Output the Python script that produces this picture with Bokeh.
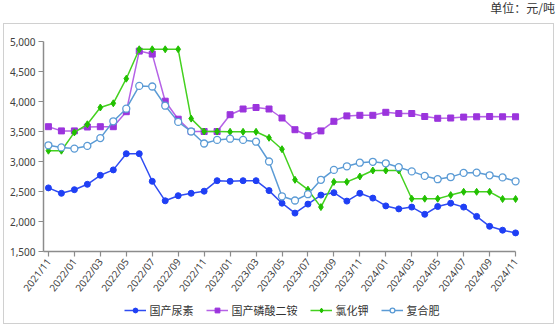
from bokeh.plotting import figure
from bokeh.layouts import column
from bokeh.models import (FixedTicker, NumeralTickFormatter, Legend, LegendItem,
                          Range1d, Div)
from bokeh.embed import file_html
from bokeh.resources import INLINE

months = ["2021/11", "2021/12", "2022/01", "2022/02", "2022/03", "2022/04", "2022/05",
          "2022/06", "2022/07", "2022/08", "2022/09", "2022/10", "2022/11", "2022/12",
          "2023/01", "2023/02", "2023/03", "2023/04", "2023/05", "2023/06", "2023/07",
          "2023/08", "2023/09", "2023/10", "2023/11", "2023/12", "2024/01", "2024/02",
          "2024/03", "2024/04", "2024/05", "2024/06", "2024/07", "2024/08", "2024/09",
          "2024/10", "2024/11"]

urea = [2560, 2470, 2530, 2620, 2770, 2860, 3130, 3130, 2670, 2345, 2430, 2470, 2505,
        2680, 2670, 2680, 2680, 2515, 2305, 2140, 2290, 2440, 2480, 2340, 2470, 2390,
        2260, 2210, 2240, 2120, 2250, 2305, 2240, 2085, 1920, 1855, 1810]
dap = [3580, 3510, 3510, 3575, 3580, 3580, 3830, 4840, 4790, 4005, 3705, 3500, 3500,
       3500, 3780, 3875, 3900, 3875, 3725, 3530, 3430, 3510, 3670, 3760, 3770, 3770,
       3820, 3800, 3800, 3750, 3720, 3725, 3740, 3745, 3750, 3745, 3745]
potash = [3180, 3180, 3485, 3620, 3900, 3970, 4380, 4870, 4870, 4870, 4870, 3715, 3500,
          3500, 3495, 3495, 3495, 3395, 3205, 2695, 2530, 2240, 2660, 2660, 2750, 2850,
          2850, 2850, 2380, 2380, 2380, 2440, 2495, 2495, 2495, 2375, 2375]
compound = [3270, 3235, 3215, 3260, 3390, 3670, 3880, 4260, 4250, 3930, 3660, 3500, 3300,
            3360, 3380, 3360, 3330, 3000, 2420, 2350, 2455, 2695, 2860, 2920, 2980, 2995,
            2970, 2905, 2835, 2760, 2705, 2740, 2810, 2815, 2770, 2735, 2670]

series_names = ["国产尿素", "国产磷酸二铵", "氯化钾", "复合肥"]
unit_text = "单位：元/吨"

x = list(range(len(months)))

p = figure(frame_width=477, frame_height=210, output_backend="svg", toolbar_location=None,
           x_range=Range1d(-0.38, len(months) - 1 + 0.38), y_range=Range1d(1500, 5000),
           min_border_left=39, min_border_right=33, min_border_top=17, min_border_bottom=40,
           margin=(0, 0, 0, 0))
p.xgrid.visible = False
p.ygrid.visible = False
p.outline_line_color = None
p.background_fill_color = "white"
p.border_fill_color = "white"

axis_color = "#8c8c8c"
label_color = "#404040"
font = "Noto Sans"

p.xaxis.ticker = FixedTicker(ticks=x[::2])
p.xaxis.major_label_overrides = {i: months[i] for i in x}
p.xaxis.major_label_orientation = 0.92
p.xaxis.bounds = (-0.38, len(months) - 1)
p.yaxis.ticker = FixedTicker(ticks=[1500, 2000, 2500, 3000, 3500, 4000, 4500, 5000])
p.yaxis.formatter = NumeralTickFormatter(format="0,0")
for ax in (p.xaxis[0], p.yaxis[0]):
    ax.axis_line_color = axis_color
    ax.axis_line_width = 1.5
    ax.major_tick_line_color = axis_color
    ax.major_tick_line_width = 1.2
    ax.major_tick_out = 5
    ax.major_tick_in = 0
    ax.minor_tick_line_color = None
    ax.major_label_text_font = font
    ax.major_label_text_font_size = "10px"
    ax.major_label_text_color = label_color
    ax.major_label_standoff = 3

styles = [
    dict(color="#2f4cf2", marker="circle", size=6, fill="#1f3ff5", line="#1f3ff5", lw=1.0),
    dict(color="#b562e6", marker="square", size=6, fill="#9b34dd", line="#9b34dd", lw=1.0),
    dict(color="#44d11f", marker="diamond", size=7, fill="#22c000", line="#22c000", lw=1.0),
    dict(color="#5b9bd5", marker="circle", size=7, fill="white", line="#5b9bd5", lw=1.3),
]

# legend host: a small transparent figure below the chart (its data lies outside its view)
p2 = figure(width=549, height=26, output_backend="svg", toolbar_location=None,
            x_range=Range1d(0, 1), y_range=Range1d(0, 1), min_border=0,
            x_axis_location=None, y_axis_location=None, margin=(-4, 0, 0, 0))
p2.xgrid.visible = False
p2.ygrid.visible = False
p2.outline_line_color = None
p2.background_fill_alpha = 0
p2.border_fill_alpha = 0

items = []
for name, vals, st in zip(series_names, [urea, dap, potash, compound], styles):
    p.line(x, vals, line_color=st["color"], line_width=1.5)
    p.scatter(x, vals, marker=st["marker"], size=st["size"],
              fill_color=st["fill"], line_color=st["line"], line_width=st["lw"])
    kl = p2.line(x, vals, line_color=st["color"], line_width=1.5)
    ks = p2.scatter(x, vals, marker=st["marker"], size=st["size"],
                    fill_color=st["fill"], line_color=st["line"], line_width=st["lw"])
    items.append(LegendItem(label=name, renderers=[kl, ks]))

legend = Legend(items=items, orientation="horizontal", location="center",
                label_text_font="Noto Sans CJK SC", label_text_font_size="11px",
                label_text_color="#333333", border_line_color=None,
                background_fill_alpha=0, glyph_width=22, glyph_height=12,
                spacing=12, padding=2, margin=0, label_standoff=4)
p2.add_layout(legend, "center")

inner = column(p, p2, spacing=0, margin=(0, 0, 0, 3),
               styles={"border": "1px solid #d0d0d0"})

title = Div(text=unit_text, width=558, height=23, margin=(0, 0, 0, 0),
            styles={"text-align": "right", "font-family": "Noto Sans CJK SC",
                    "font-size": "12px", "color": "#333333", "line-height": "16px",
                    "padding-right": "3px", "box-sizing": "border-box"})

layout = column(title, inner, spacing=0)

open("out.html", "w").write(file_html(layout, INLINE))
